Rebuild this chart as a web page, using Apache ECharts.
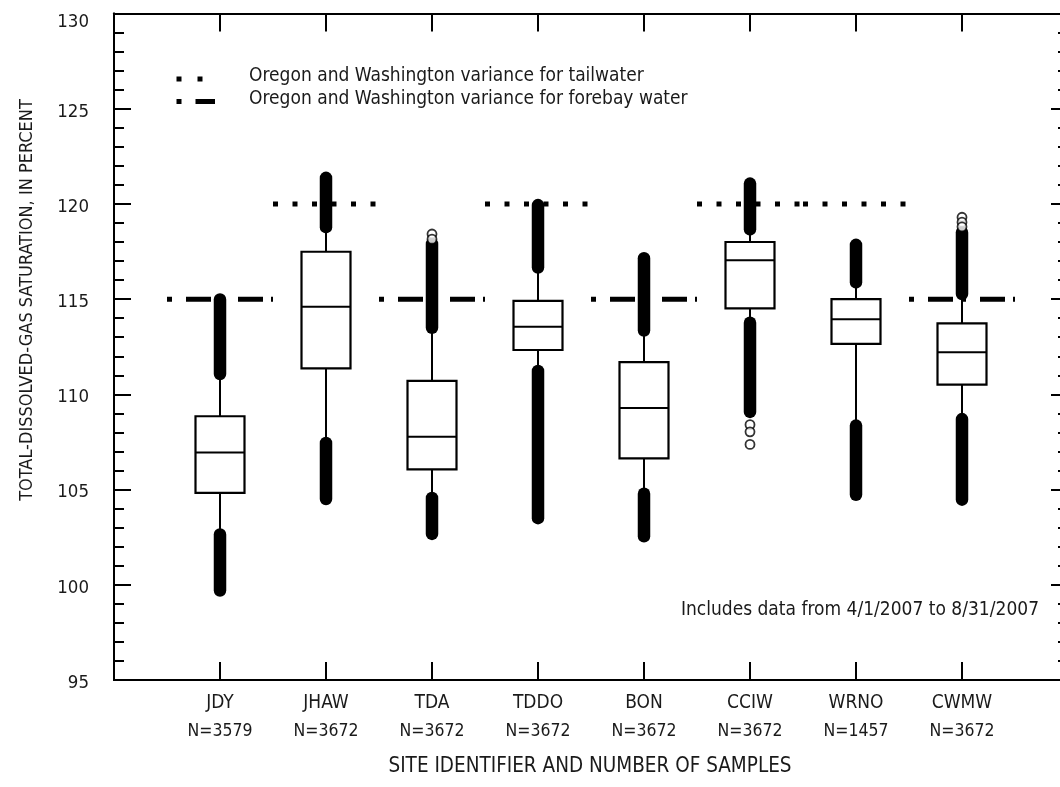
<!DOCTYPE html>
<html><head><meta charset="utf-8">
<script src="https://cdn.jsdelivr.net/npm/echarts@6/dist/echarts.min.js"></script>
<style>html,body{margin:0;padding:0;background:#fff}#c{width:1060px;height:787px}</style>
</head><body><div id="c"></div>
<script>
// ---- data ----
const sites = ['JDY','JHAW','TDA','TDDO','BON','CCIW','WRNO','CWMW'];
const sampleCounts = [3579,3672,3672,3672,3672,3672,1457,3672];
const whiskerLow  = [102.64,107.45,104.56,111.23,104.78,113.76,108.36,108.70];
const q1          = [104.83,111.36,106.06,112.33,106.64,114.51,112.65,110.51];
const median      = [106.95,114.60,107.77,113.55,109.29,117.04,113.94,112.21];
const q3          = [108.85,117.49,110.71,114.91,111.69,118.00,115.00,113.73];
const whiskerHigh = [111.07,118.78,113.50,116.66,113.35,118.66,115.88,115.27];
// dense outlier runs: [lowest, highest] outlier value
const upperOutliers = [[111.07,114.98],[118.78,121.37],[113.50,117.90],[116.66,119.94],[113.35,117.15],[118.66,121.07],[115.88,117.85],[115.27,118.50]];
const lowerOutliers = [[99.70,102.64],[104.50,107.45],[102.67,104.56],[103.50,111.23],[102.55,104.78],[109.08,113.76],[104.73,108.36],[104.47,108.70]];
// individually visible outliers: [site position, value]
const isolatedOutliers = [[3,118.42],[3,118.15],[6,108.41],[6,108.03],[6,107.37],[8,119.30],[8,119.04],[8,118.80]];
const tailwaterLevel = 120;
const tailwaterSpans = [[1.5,2.5],[3.5,4.5],[5.5,6.5],[6.5,7.5]];
const forebayLevel = 115;
const forebaySpans = [[0.5,1.5],[2.5,3.5],[4.5,5.5],[7.5,8.5]];
const yMin = 95, yMax = 130, yMajor = 5, yMinor = 1;

// ---- chart ----
const FONT = '"Liberation Sans Narrow","DejaVu Sans Condensed","Arial Narrow",sans-serif';
const TXT = '#1a1a1a';
const chart = echarts.init(document.getElementById('c'), null, {renderer:'canvas'});

const boxData = sites.map((s,i)=>[i+1, whiskerLow[i], q1[i], median[i], q3[i], whiskerHigh[i]]);
const blobData = [];
sites.forEach((s,i)=>{ blobData.push([i+1, upperOutliers[i][0], upperOutliers[i][1]]); blobData.push([i+1, lowerOutliers[i][0], lowerOutliers[i][1]]); });
const refData = tailwaterSpans.map(s=>[s[0], s[1], tailwaterLevel, 0]).concat(forebaySpans.map(s=>[s[0], s[1], forebayLevel, 1]));

const axisLine = {show:true, lineStyle:{color:'#000', width:2}};
const tick = len => ({show:true, inside:true, length:len, lineStyle:{color:'#000', width:2}});
const xAxisBase = {type:'value', min:0, max:9, interval:1, axisLine, splitLine:{show:false}, axisTick:tick(18)};
const yAxis = (pos, step, len, labels) => ({type:'value', position:pos, min:yMin, max:yMax, interval:step,
  axisLine, splitLine:{show:false}, axisTick:tick(len), minorTick:{show:false}, axisLabel:labels || {show:false}});

chart.setOption({
  animation:false,
  backgroundColor:'#fff',
  grid:{left:114, top:13.5, width:954, height:666.5, outerBoundsMode:'none', containLabel:false},
  xAxis:[
    Object.assign({}, xAxisBase, {position:'bottom',
      axisLabel:{show:true, margin:9, color:TXT,
        formatter:v=> (v>=1 && v<=sites.length) ? '{s|'+sites[v-1]+'}\n{n|N='+sampleCounts[v-1]+'}' : '',
        rich:{s:{fontFamily:FONT, fontSize:19, lineHeight:28, color:TXT}, n:{fontFamily:FONT, fontSize:17.5, lineHeight:28, color:TXT}}}}),
    Object.assign({}, xAxisBase, {position:'top', axisLabel:{show:false}})
  ],
  yAxis:[
    yAxis('left', yMajor, 17, {show:true, margin:25, color:TXT,
        formatter:v=> v===yMax ? '{t|'+v+'}' : '{n|'+v+'}',
        rich:{t:{fontFamily:FONT, fontSize:18.5, color:TXT, padding:[18,0,0,0]}, n:{fontFamily:FONT, fontSize:18.5, color:TXT, padding:[6,0,0,0]}}}),
    yAxis('left', yMinor, 10),
    yAxis('right', yMajor, 17),
    yAxis('right', yMinor, 10)
  ],
  graphic:[
    {type:'line', z:100, shape:{x1:176.5,y1:79,x2:202.5,y2:79}, style:{stroke:'#000', lineWidth:5, lineDash:[5,16]}},
    {type:'line', z:100, shape:{x1:176.5,y1:101.5,x2:215,y2:101.5}, style:{stroke:'#000', lineWidth:5, lineDash:[5,14,20,100]}},
    {type:'text', z:100, x:249, y:76, style:{text:'Oregon and Washington variance for tailwater', font:'19px '+FONT, fill:TXT, verticalAlign:'middle'}},
    {type:'text', z:100, x:249, y:99, style:{text:'Oregon and Washington variance for forebay water', font:'19px '+FONT, fill:TXT, verticalAlign:'middle'}},
    {type:'text', z:100, x:1039, y:610, style:{text:'Includes data from 4/1/2007 to 8/31/2007', font:'19px '+FONT, fill:TXT, align:'right', verticalAlign:'middle'}},
    {type:'text', z:100, x:590, y:767, style:{text:'SITE IDENTIFIER AND NUMBER OF SAMPLES', font:'20.5px '+FONT, fill:TXT, align:'center', verticalAlign:'middle'}},
    {type:'text', z:100, x:27, y:300, rotation:Math.PI/2, style:{text:'TOTAL-DISSOLVED-GAS SATURATION, IN PERCENT', font:'18px '+FONT, fill:TXT, align:'center', verticalAlign:'middle'}}
  ],
  series:[
    {type:'custom', name:'reference', xAxisIndex:0, yAxisIndex:0, z:2, data:refData,
      renderItem:(params, api)=>{
        const a = api.coord([api.value(0), api.value(2)]);
        const b = api.coord([api.value(1), api.value(2)]);
        const dash = api.value(3) === 0 ? [5,14.5] : [5,14,25,8];
        return {type:'line', shape:{x1:a[0], y1:a[1], x2:b[0], y2:b[1]}, style:{stroke:'#000', lineWidth:5, lineDash:dash, lineCap:'butt'}};
      }},
    {type:'custom', name:'boxes', xAxisIndex:0, yAxisIndex:0, z:3, data:boxData,
      renderItem:(params, api)=>{
        const x = api.value(0);
        const c = v=>api.coord([x, v]);
        const hw = 24.5;
        const pwl=c(api.value(1)), pq1=c(api.value(2)), pm=c(api.value(3)), pq3=c(api.value(4)), pwh=c(api.value(5));
        const st = {stroke:'#000', lineWidth:2, fill:null};
        return {type:'group', children:[
          {type:'line', shape:{x1:pq1[0], y1:pq1[1], x2:pwl[0], y2:pwl[1]}, style:st},
          {type:'line', shape:{x1:pq3[0], y1:pq3[1], x2:pwh[0], y2:pwh[1]}, style:st},
          {type:'rect', shape:{x:pq3[0]-hw, y:pq3[1], width:2*hw, height:pq1[1]-pq3[1]}, style:{stroke:'#000', lineWidth:2.2, fill:'#fff'}},
          {type:'line', shape:{x1:pm[0]-hw, y1:pm[1], x2:pm[0]+hw, y2:pm[1]}, style:st}
        ]};
      }},
    {type:'custom', name:'outlierRuns', xAxisIndex:0, yAxisIndex:0, z:4, data:blobData,
      renderItem:(params, api)=>{
        const a = api.coord([api.value(0), api.value(1)]);
        const b = api.coord([api.value(0), api.value(2)]);
        return {type:'line', shape:{x1:a[0], y1:a[1], x2:b[0], y2:b[1]}, style:{stroke:'#000', lineWidth:12.5, lineCap:'round'}};
      }},
    {type:'scatter', name:'outliers', xAxisIndex:0, yAxisIndex:0, z:5, data:isolatedOutliers,
      symbol:'circle', symbolSize:9, itemStyle:{color:'#fff', borderColor:'#000', borderWidth:1.8}}
  ]
});
</script></body></html>
